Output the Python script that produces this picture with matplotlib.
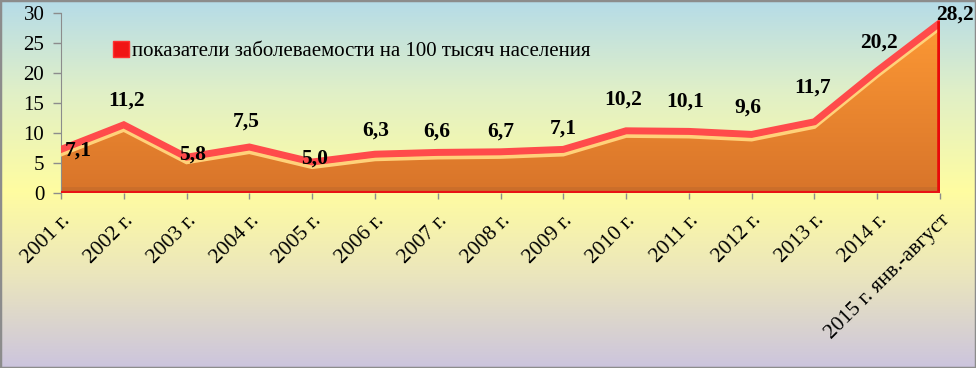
import numpy as np
import matplotlib
matplotlib.use("Agg")
import matplotlib.pyplot as plt
from matplotlib.colors import LinearSegmentedColormap
from matplotlib.lines import Line2D
from matplotlib.patches import Rectangle
import matplotlib.transforms as mtransforms

categories = ["2001 г.", "2002 г.", "2003 г.", "2004 г.", "2005 г.", "2006 г.", "2007 г.",
              "2008 г.", "2009 г.", "2010 г.", "2011 г.", "2012 г.", "2013 г.", "2014 г.",
              "2015 г. янв.-август"]
values = [7.1, 11.2, 5.8, 7.5, 5.0, 6.3, 6.6, 6.7, 7.1, 10.2, 10.1, 9.6, 11.7, 20.2, 28.2]
labels = ["7,1", "11,2", "5,8", "7,5", "5,0", "6,3", "6,6", "6,7", "7,1", "10,2", "10,1",
          "9,6", "11,7", "20,2", "28,2"]
series_name = "показатели заболеваемости на 100 тысяч населения"

# label offsets (pixels) - styling
label_dx = [17, 3, 6, -3, 2, 1, -1, 0, 0, -3, -4, -4, -2, 2, 15]
label_dy = [0, 25, 4, 26, 4, 25, 22, 21, 22, 32, 31, 28, 35, 29, 9]

serif = "Liberation Serif"
fig = plt.figure(figsize=(9.76, 3.68), dpi=100)

# gradient background
bg = fig.add_axes([0, 0, 1, 1], zorder=-10)
bg_cmap = LinearSegmentedColormap.from_list("bg", [
    (0.0, (0.71, 0.86, 0.91)),
    (0.25, (0.88, 0.94, 0.78)),
    (0.52, (1.0, 0.99, 0.63)),
    (0.75, (0.92, 0.90, 0.74)),
    (1.0, (0.80, 0.77, 0.87))])
grad = np.linspace(0, 1, 256).reshape(-1, 1)
bg.imshow(grad, aspect="auto", cmap=bg_cmap, extent=[0, 1, 0, 1], origin="upper")
bg.set_xlim(0, 1); bg.set_ylim(0, 1)
bg.axis("off")
bg.add_patch(Rectangle((0, 0), 1, 1, transform=bg.transAxes, fill=False,
                       edgecolor="#8c8c8c", linewidth=2.5))

ax = fig.add_axes([61/976, 1-193/368, (940-61)/976, 180/368])
ax.set_facecolor("none")
x = np.arange(len(values))
v = np.array(values)

# orange gradient fill clipped to area
poly = ax.fill_between(x, 0, v, facecolor="none", edgecolor="none")
fill_cmap = LinearSegmentedColormap.from_list("fill", ["#d8742a", "#ff9b35"])
im = ax.imshow(np.linspace(0, 1, 256).reshape(-1, 1), cmap=fill_cmap, aspect="auto",
               extent=[0, len(v)-1, 0, 30], origin="lower", zorder=2)
im.set_clip_path(poly.get_paths()[0], transform=ax.transData)
ax.fill_between(x, 0, 1.0, color="#c0692a", alpha=0.5, zorder=2.1, linewidth=0)

down = mtransforms.offset_copy(ax.transData, fig=fig, x=0, y=-4, units="dots")
up = mtransforms.offset_copy(ax.transData, fig=fig, x=0, y=1, units="dots")
ax.plot(x, v, color="#ffd27a", lw=3, transform=down, zorder=3, solid_joinstyle="miter")
ax.plot(x, v, color="#ff4b4b", lw=5, transform=up, zorder=4, solid_joinstyle="miter")
ax.plot([x[-1], x[-1]], [0, v[-1]], color="#e80a0a", lw=4, zorder=4)
ax.plot([0, x[-1]], [0, 0], color="#e81414", lw=3, zorder=4)

for i, (xi, vi, lab) in enumerate(zip(x, v, labels)):
    ax.annotate(lab, (xi, vi), xytext=(label_dx[i], label_dy[i]), textcoords="offset pixels",
                ha="center", va="center", fontsize=15.5, fontweight="bold",
                family=serif, color="black", zorder=6, annotation_clip=False)

ax.set_xlim(0, len(v)-1)
ax.set_ylim(0, 30)
ax.set_yticks(range(0, 31, 5))
ax.set_yticklabels([str(t) for t in range(0, 31, 5)], family=serif, fontsize=15)
ax.set_xticks(x)
ax.set_xticklabels(categories, family=serif, fontsize=15.5, rotation=45, ha="right",
                   va="top", rotation_mode="anchor")
ax.tick_params(axis="both", colors="#8c8c8c", labelcolor="black", length=6, width=1)
ax.tick_params(axis="y", pad=6)
ax.tick_params(axis="x", length=4, pad=9)
for s in ["top", "right"]:
    ax.spines[s].set_visible(False)
ax.spines["left"].set_color("#8c8c8c")
ax.spines["bottom"].set_visible(False)

handle = Line2D([], [], marker="s", linestyle="none", markersize=11,
                markerfacecolor="#f01515", markeredgecolor="#ff3030")
leg = ax.legend([handle], [series_name], loc="upper left", bbox_to_anchor=(0.045, 0.9),
                frameon=False, prop={"family": serif, "size": 15}, handletextpad=0.0,
                borderpad=0, handlelength=1.0)

fig.savefig("out.png", dpi=100)
